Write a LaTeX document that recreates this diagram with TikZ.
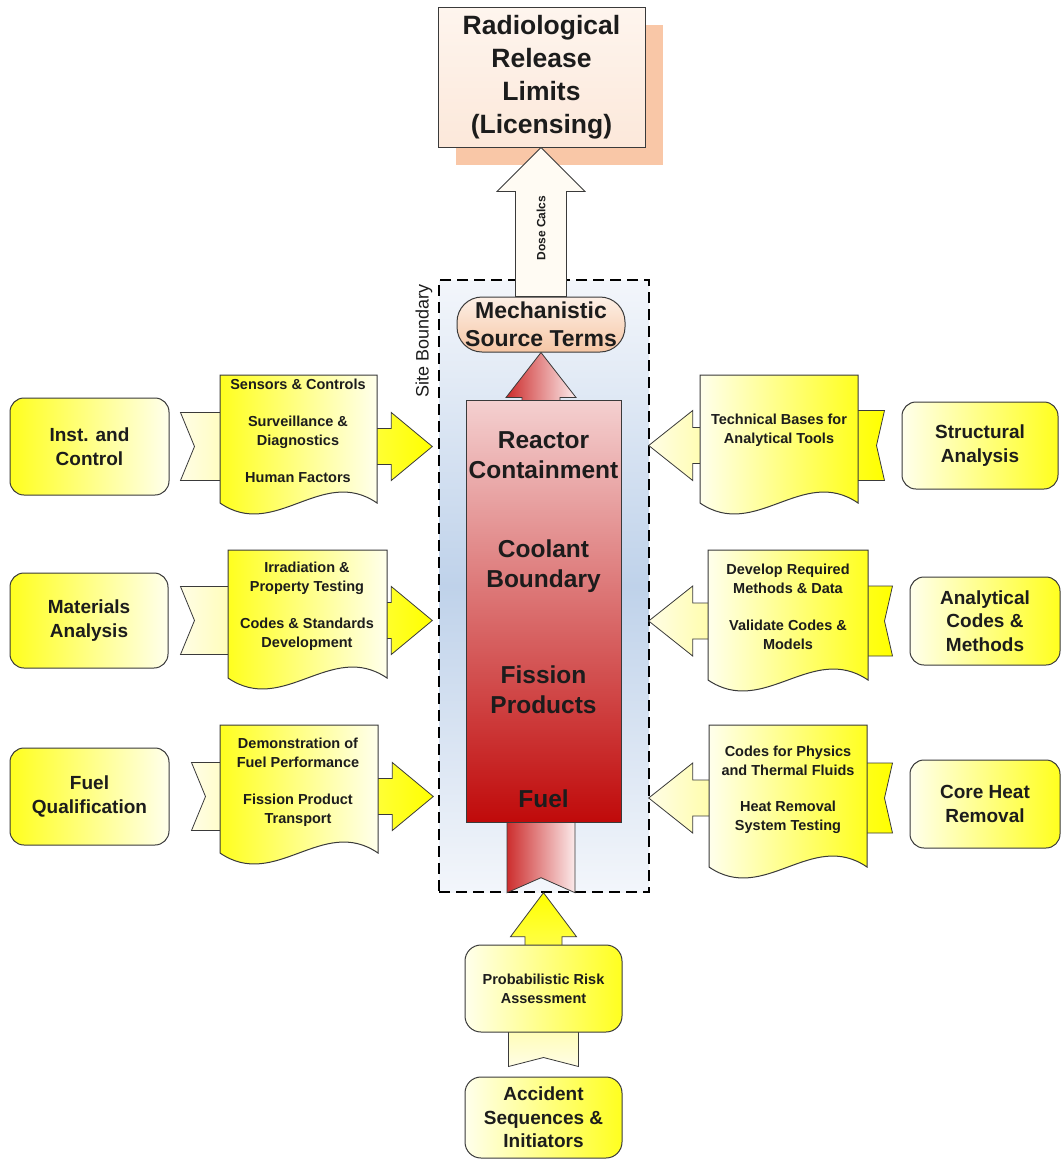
\documentclass[tikz,border=0pt]{standalone}
\usepackage{fontspec}
\setmainfont{Liberation Sans}
\usetikzlibrary{calc,shadows}
\tikzset{>=latex}
\definecolor{linec}{HTML}{3A3A3A}
\definecolor{textc}{HTML}{1C1C1C}
\definecolor{boxyel}{HTML}{FFFF1F}
\definecolor{boxlight}{HTML}{FFFFEC}
\definecolor{arryel}{HTML}{FFFF00}
\definecolor{arrcream}{HTML}{FFFDE6}
\definecolor{shadowc}{HTML}{F9C7A7}
\definecolor{limtop}{HTML}{FEF5EE}
\definecolor{limbot}{HTML}{FCE8DA}
\definecolor{msttop}{HTML}{FDF0E6}
\definecolor{mstbot}{HTML}{F6C6A5}
\definecolor{coretop}{HTML}{F4D0D0}
\definecolor{corebot}{HTML}{C00A0A}
\definecolor{sitemid}{HTML}{BFD2EA}
\definecolor{siteedge}{HTML}{F3F6FB}
\definecolor{redl}{HTML}{CC2B2B}
\definecolor{redr}{HTML}{FCEDED}
\definecolor{dosefill}{HTML}{FFFBF3}
\newcommand{\fnttop}{\fontsize{26.5}{33}\selectfont\bfseries}
\newcommand{\fntcore}{\fontsize{24.5}{30}\selectfont\bfseries}
\newcommand{\fntmst}{\fontsize{23}{28}\selectfont\bfseries}
\newcommand{\fntbox}{\fontsize{19}{23.5}\selectfont\bfseries}
\newcommand{\fntdoc}{\fontsize{14.5}{19}\selectfont\bfseries}
\newcommand{\fntdose}{\fontsize{12}{14}\selectfont\bfseries}
\newcommand{\fntsite}{\fontsize{18}{20}\selectfont}
\tikzset{
  sitebox/.style={draw=black, line width=1.4pt, dash pattern=on 11pt off 6pt, top color=siteedge, bottom color=siteedge, middle color=sitemid, minimum width=210pt, minimum height=612pt, inner sep=0pt},
  corebox/.style={draw=linec, line width=1pt, top color=coretop, bottom color=corebot, minimum width=155pt, minimum height=422pt, inner sep=0pt},
  coretext/.style={align=center, font=\fntcore, text=textc},
  lbox/.style={draw=linec, line width=1pt, rounded corners=14pt, left color=boxyel, right color=boxlight, align=center, font=\fntbox, text=textc, minimum width=159pt, minimum height=97pt},
  rbox/.style={lbox, left color=boxlight, right color=boxyel},
  ldoc/.style={draw=linec, line width=1pt, left color=boxyel, right color=boxlight},
  rdoc/.style={draw=linec, line width=1pt, left color=boxlight, right color=boxyel},
  doctext/.style={align=center, font=\fntdoc, text=textc, inner sep=0pt},
  sidearrow/.style={draw=linec, line width=0.8pt, left color=arrcream, right color=arryel},
  redarrow/.style={draw=linec, line width=0.8pt, left color=redl, right color=redr},
  yelarrow/.style={draw=linec, line width=0.8pt, top color=arryel, bottom color=arrcream},
  dosearrow/.style={draw=linec, line width=0.8pt, fill=dosefill}
}
\pgfdeclarelayer{bg}
\pgfdeclarelayer{back}
\pgfdeclarelayer{front}
\pgfsetlayers{bg,back,main,front}
\newcommand{\fatright}[2]{%
  \path[sidearrow] let \p1=(#1), \p2=(#2) in
    (\x1,\y1+34pt) -- (\x2-63pt,\y1+34pt) -- (\x2-63pt,\y1+18pt) -- (\x2-41pt,\y1+18pt)
    -- (\x2-41pt,\y1+34pt) -- (\x2,\y1) -- (\x2-41pt,\y1-34pt) -- (\x2-41pt,\y1-18pt)
    -- (\x2-63pt,\y1-18pt) -- (\x2-63pt,\y1-34pt) -- (\x1,\y1-34pt) -- (\x1+14pt,\y1) -- cycle;}
\newcommand{\fatleft}[2]{%
  \path[sidearrow] let \p1=(#1), \p2=(#2) in
    (\x1,\y1+35pt) -- (\x2+64pt,\y1+35pt) -- (\x2+64pt,\y1+18pt) -- (\x2+44pt,\y1+18pt)
    -- (\x2+44pt,\y1+35pt) -- (\x2,\y1) -- (\x2+44pt,\y1-35pt) -- (\x2+44pt,\y1-18pt)
    -- (\x2+64pt,\y1-18pt) -- (\x2+64pt,\y1-35pt) -- (\x1,\y1-35pt) -- (\x1-8pt,\y1) -- cycle;}
\newcommand{\docshape}[5]{%
  \path[#1] (#2,#3) -- (#4,#3) -- (#4,#5)
    .. controls ({#4-0.35*(#4-#2)},{#5-38}) and ({#2+0.35*(#4-#2)},{#5+38}) .. (#2,#5) -- cycle;}
\begin{document}
\begin{tikzpicture}[x=1pt,y=-1pt]
\useasboundingbox (0,0) rectangle (1061,1160);

\begin{pgfonlayer}{bg}
\node[sitebox] (site) at (544,586) {};
\end{pgfonlayer}
\node[rotate=90, font=\fntsite, text=textc] (sitelabel) at (424,341) {Site Boundary};

\begin{pgfonlayer}{front}
\node[draw=linec, line width=1pt, rounded corners=25pt, top color=msttop, bottom color=mstbot, minimum width=168pt, minimum height=55pt, inner sep=0pt, align=center, font=\fntmst, text=textc] (mst) at (541,324.5) {Mechanistic\\Source Terms};
\end{pgfonlayer}

\node[draw=linec, line width=1pt, top color=limtop, bottom color=limbot, general shadow={fill=shadowc, shadow xshift=18pt, shadow yshift=-18pt}, minimum width=207pt, minimum height=140pt, align=center, font=\fnttop, text=textc] (limits) at (541.5,77) {Radiological\\Release\\Limits\\(Licensing)};
\path[dosearrow] let \p1=(mst.north), \p2=(limits.south) in
  (\x1-25.5pt,\y1) -- (\x1-25.5pt,\y2-44pt) -- (\x1-44pt,\y2-44pt) -- (\x1,\y2)
  -- (\x1+44pt,\y2-44pt) -- (\x1+25.5pt,\y2-44pt) -- (\x1+25.5pt,\y1) -- cycle;
\node[rotate=90, font=\fntdose, text=textc] (doselabel) at (541,228) {Dose Calcs};

\node[corebox] (core) at (543.5,611) {};
\node[coretext] (contain) at (543.5,455) {Reactor\\Containment};
\node[coretext] (coolant) at (543.5,566) {Coolant\\Boundary};
\node[coretext] (fission) at (543.5,690) {Fission\\Products};
\node[coretext] (fuel) at (543.5,799) {Fuel};

\node[rbox, font=\fntdoc, minimum width=157pt, minimum height=87pt, rounded corners=16pt] (pra) at (543.5,988.5) {Probabilistic Risk\\Assessment};
\node[rbox, minimum width=157pt, minimum height=81pt, rounded corners=16pt] (acc) at (543.5,1117.5) {Accident\\Sequences \&\\Initiators};

\begin{pgfonlayer}{back}
\path[redarrow] let \p1=(site.south), \p2=(mst.south), \p3=(core.north) in
  (\x2-34pt,\y1) -- (\x2-34pt,\y3-10pt) -- (\x2-19pt,\y3-10pt) -- (\x2-19pt,\y2-45pt)
  -- (\x2-35pt,\y2-45pt) -- (\x2,\y2) -- (\x2+35pt,\y2-45pt) -- (\x2+19pt,\y2-45pt)
  -- (\x2+19pt,\y3-10pt) -- (\x2+34pt,\y3-10pt) -- (\x2+34pt,\y1) -- (\x2,\y1+15pt) -- cycle;
\path[yelarrow] let \p1=($(acc.north)+(0,-10)$), \p2=(site.south), \p3=(pra.north) in
  (\x3-35pt,\y1) -- (\x3-35pt,\y3-10pt) -- (\x3-18.5pt,\y3-10pt) -- (\x3-18.5pt,\y2-44pt)
  -- (\x3-33pt,\y2-44pt) -- (\x3,\y2) -- (\x3+33pt,\y2-44pt) -- (\x3+18.5pt,\y2-44pt)
  -- (\x3+18.5pt,\y3-10pt) -- (\x3+35pt,\y3-10pt) -- (\x3+35pt,\y1) -- (\x3,\y1+9pt) -- cycle;
\end{pgfonlayer}

\node[lbox] (inst) at (89.5,446.5) {Inst. and\\Control};
\node[lbox, minimum width=158pt, minimum height=95pt] (matl) at (89,620.5) {Materials\\Analysis};
\node[lbox] (fuelq) at (89.5,796.5) {Fuel\\Qualification};
\node[rbox, minimum width=156pt, minimum height=87pt] (struct) at (980,445.5) {Structural\\Analysis};
\node[rbox, minimum width=150pt, minimum height=88pt] (acm) at (985,621) {Analytical\\Codes \&\\Methods};
\node[rbox, minimum width=150pt, minimum height=88pt] (chr) at (985,804) {Core Heat\\Removal};

\begin{pgfonlayer}{back}
\fatright{$(inst.east)+(11,0)$}{$(inst.east -| site.west)+(-6,0)$}
\fatright{$(matl.east)+(12,0)$}{$(matl.east -| site.west)+(-6,0)$}
\fatright{$(fuelq.east)+(22,0)$}{$(fuelq.east -| site.west)+(-5,0)$}
\fatleft{$(struct.west)+(-17,0)$}{$(struct.west -| site.east)+(-1,0)$}
\fatleft{$(acm.west)+(-17,0)$}{$(acm.west -| site.east)+(-1,0)$}
\fatleft{$(chr.west)+(-17,-6)$}{$(chr.west -| site.east)+(-1,-6)$}
\end{pgfonlayer}

\docshape{ldoc}{220}{375}{377}{503}
\docshape{ldoc}{228}{550}{387}{678}
\docshape{ldoc}{220}{725}{378}{853}
\docshape{rdoc}{700}{375}{858}{503}
\docshape{rdoc}{708}{550}{868}{680}
\docshape{rdoc}{709}{725}{867}{867}
\node[doctext] (dinst) at (298,431) {Sensors \& Controls\\[18pt]Surveillance \&\\Diagnostics\\[18pt]Human Factors};
\node[doctext] (dmatl) at (307,606.5) {Irradiation \&\\Property Testing\\[18pt]Codes \& Standards\\Development};
\node[doctext] (dfuel) at (298,782.5) {Demonstration of\\Fuel Performance\\[18pt]Fission Product\\Transport};
\node[doctext] (dstruct) at (779,430.5) {Technical Bases for\\Analytical Tools};
\node[doctext] (dacm) at (788,607) {Develop Required\\Methods \& Data\\[18pt]Validate Codes \&\\Models};
\node[doctext] (dchr) at (788,790) {Codes for Physics\\and Thermal Fluids\\[17pt]Heat Removal\\System Testing};
\end{tikzpicture}
\end{document}
